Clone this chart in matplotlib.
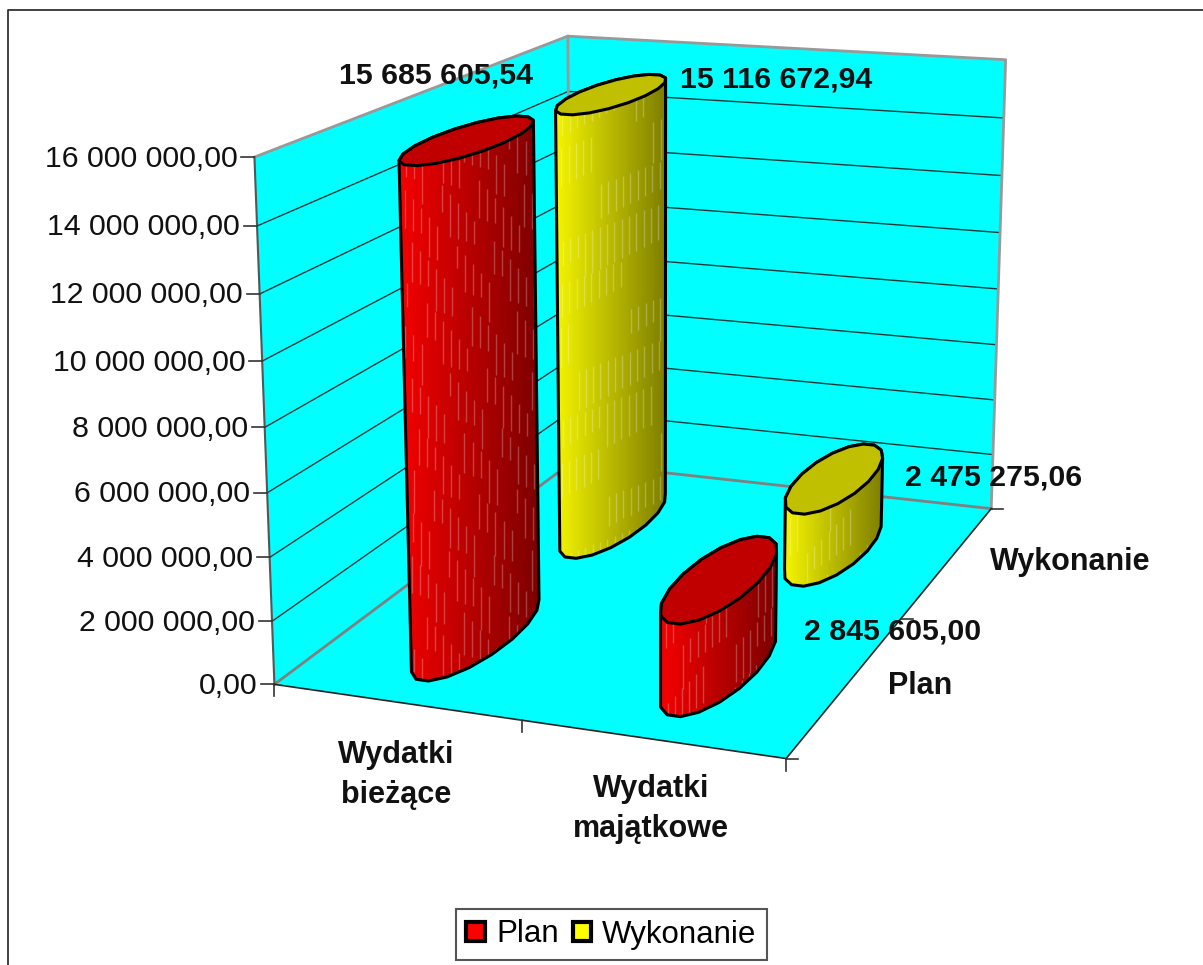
import numpy as np
import matplotlib
matplotlib.use('Agg')
import matplotlib.pyplot as plt
from matplotlib.patches import Polygon, Patch

plt.rcParams['font.family'] = ['Liberation Sans', 'DejaVu Sans']

categories = ['Wydatki\nbieżące', 'Wydatki\nmajątkowe']
series = ['Plan', 'Wykonanie']
plan = [15685605.54, 2845605.00]
wykonanie = [15116672.94, 2475275.06]
value_labels = [['15 685 605,54', '2 845 605,00'], ['15 116 672,94', '2 475 275,06']]
yticks = [0, 2000000, 4000000, 6000000, 8000000, 10000000, 12000000, 14000000, 16000000]
ytick_labels = ['0,00', '2 000 000,00', '4 000 000,00', '6 000 000,00', '8 000 000,00',
                '10 000 000,00', '12 000 000,00', '14 000 000,00', '16 000 000,00']
zmax = 16000000

# box corners (category, series, value) -> where they land in the image
corners = [(0, 0, 0), (2, 0, 0), (2, 2, 0), (0, 2, 0), (0, 0, zmax), (0, 2, zmax), (2, 2, zmax)]
corner_px = [(274, 684), (786, 759), (991, 508), (572, 463), (255, 157), (567, 36), (1006, 60)]


def fit_camera():
    rows = []
    for (x, y, z), (u, v) in zip(corners, corner_px):
        p = [x, y, z / zmax, 1]
        rows.append(p + [0, 0, 0, 0] + [-u * c for c in p])
        rows.append([0, 0, 0, 0] + p + [-v * c for c in p])
    _, _, vt = np.linalg.svd(np.array(rows, dtype=float))
    return vt[-1].reshape(3, 4)


cam = fit_camera()


def proj(x, y, z):
    x, y, z = np.broadcast_arrays(x, y, z)
    p = np.stack([x, y, z / zmax, np.ones_like(x, dtype=float)]).astype(float)
    q = cam @ p
    return np.stack([q[0] / q[2], q[1] / q[2]], axis=-1)


def hull(pts):
    pts = sorted(map(tuple, pts))
    def half(seq):
        out = []
        for p in seq:
            while len(out) > 1:
                a = np.subtract(out[-1], out[-2])
                b = np.subtract(p, out[-2])
                if a[0] * b[1] - a[1] * b[0] > 0:
                    break
                out.pop()
            out.append(p)
        return out[:-1]
    return np.array(half(pts) + half(pts[::-1]))


fig = plt.figure(figsize=(12.03, 9.65), dpi=100)
ax = fig.add_axes([0, 0, 1, 1])
ax.set_xlim(0, 1203)
ax.set_ylim(965, 0)
ax.axis('off')

# outer frame, the right and bottom sides are cut off in the picture
ax.plot([8, 8, 1203], [965, 10, 10], color='#333333', lw=1.3)

# walls and floor
cyan = '#00FFFF'
ax.add_patch(Polygon(proj([0, 0, 0, 0], [0, 2, 2, 0], [0, 0, zmax, zmax]), fc=cyan, ec='none'))
ax.add_patch(Polygon(proj([0, 2, 2, 0], [2, 2, 2, 2], [0, 0, zmax, zmax]), fc=cyan, ec='none'))
ax.add_patch(Polygon(proj([0, 2, 2, 0], [0, 0, 2, 2], [0, 0, 0, 0]), fc=cyan, ec='none'))

for t in yticks[1:-1]:
    ax.plot(*proj([0, 0, 2], [0, 2, 2], [t, t, t]).T, color='#1a3a3a', lw=1)

grey = '#999999'
ax.plot(*proj([0, 0, 2, 2], [0, 2, 2, 2], [zmax, zmax, zmax, 0]).T, color=grey, lw=2)
ax.plot(*proj([0, 0], [2, 2], [0, zmax]).T, color=grey, lw=2)
ax.plot(*proj([0, 0, 2], [0, 2, 2], [0, 0, 0]).T, color='#808080', lw=2)
ax.plot(*proj([0, 0], [0, 0], [0, zmax]).T, color='#555555', lw=1.5)
ax.plot(*proj([0, 2, 2], [0, 0, 2], [0, 0, 0]).T, color='#222222', lw=1.2)

# ticks
for t, lab in zip(yticks, ytick_labels):
    u, v = proj(0, 0, t)
    ax.plot([u - 13, u], [v, v], color='#333333', lw=1.2)
    ax.text(u - 17, v + 1.5, lab, ha='right', va='center', fontsize=21.8, color='#111111', zorder=20)
for c in [0, 1, 2]:
    u, v = proj(c, 0, 0)
    ax.plot([u, u], [v, v + 12], color='#333333', lw=1.2)
for s in [0, 1, 2]:
    u, v = proj(2, s, 0)
    ax.plot([u, u + 12], [v, v], color='#333333', lw=1.2)

# axis names
cat_px = [(396, 775), (651, 809)]
for cat, (u, v) in zip(categories, cat_px):
    ax.text(u, v, cat, ha='center', va='center', fontsize=22, fontweight='bold',
            color='#111111', linespacing=1.45, zorder=20)
series_px = [(920, 686), (1070, 562)]
for s, (u, v) in zip(series, series_px):
    ax.text(u, v, s, ha='center', va='center', fontsize=22, fontweight='bold', color='#111111', zorder=20)


def cylinder(cx, cy, val, bright, dark, top, z):
    t = np.linspace(0, 2 * np.pi, 19)[:-1]
    rx, ry = 0.147, 0.35
    xs = cx + rx * np.cos(t)
    ys = cy + ry * np.sin(t)
    bot = proj(xs, ys, np.zeros_like(xs))
    cap = proj(xs, ys, np.full_like(xs, val))
    body = hull(np.vstack([bot, cap]))
    patch = Polygon(body, fc='none', ec='none', zorder=z)
    ax.add_patch(patch)
    x0, y0 = body.min(axis=0)
    x1, y1 = body.max(axis=0)
    grad = np.linspace(0, 1, 256)[None, :, None]
    img = np.array(bright)[None, None, :] * (1 - grad) + np.array(dark)[None, None, :] * grad
    im = ax.imshow(img.astype(np.uint8), extent=[x0, x1, y1, y0], aspect='auto',
                   interpolation='bilinear', zorder=z)
    im.set_clip_path(patch)
    # pale vertical streaks of the picture fill
    xs_s, y_a, y_b = [], [], []
    k = 0
    for sx in np.arange(x0 + 5, x1, 7.5):
        for sy in np.arange(y0, y1, 62):
            k += 1
            off = (k * 0.618) % 1
            xs_s.append(sx + off * 3)
            y_a.append(sy + off * 50)
            y_b.append(sy + off * 50 + 22 + 22 * ((k * 0.37) % 1))
    vl = ax.vlines(xs_s, y_a, y_b, color='#ffffff', alpha=0.25, lw=1, zorder=z + 0.1)
    vl.set_clip_path(patch)
    ax.add_patch(Polygon(body, fc='none', ec='black', lw=2.2, joinstyle='round', zorder=z + 0.2))
    ax.add_patch(Polygon(cap, fc=top, ec='black', lw=2.2, joinstyle='round', zorder=z + 0.3))


red = ((245, 0, 0), (125, 0, 0), '#C00000')
yellow = ((245, 245, 0), (125, 125, 0), '#C0C000')

for i, val in enumerate(wykonanie):
    cylinder(i + 0.5, 1.5, val, *yellow, z=5 + i)
for i, val in enumerate(plan):
    cylinder(i + 0.5, 0.5, val, *red, z=8 + i)
ax.set_xlim(0, 1203)
ax.set_ylim(965, 0)

# value labels
label_px = [[(436, 76), (893, 632)], [(776, 79), (994, 478)]]
for row, pos in zip(value_labels, label_px):
    for lab, (u, v) in zip(row, pos):
        ax.text(u, v, lab, ha='center', va='center', fontsize=21.8, fontweight='bold', color='#111111', zorder=20)

handles = [Patch(fc='#FF0000', ec='black', lw=3, label=series[0]),
           Patch(fc='#FFFF00', ec='black', lw=3, label=series[1])]
leg = ax.legend(handles=handles, ncols=2, loc='center', bbox_to_anchor=(611.5 / 1203, 1 - 934.5 / 965),
                fontsize=22.5, frameon=True, fancybox=False, edgecolor='#555555', framealpha=1,
                handlelength=0.6, handleheight=0.6, handletextpad=0.35, columnspacing=0.45,
                borderpad=0.33, borderaxespad=0)
leg.get_frame().set_linewidth(1.5)
leg.set_zorder(30)

fig.savefig('out.png', dpi=100)
